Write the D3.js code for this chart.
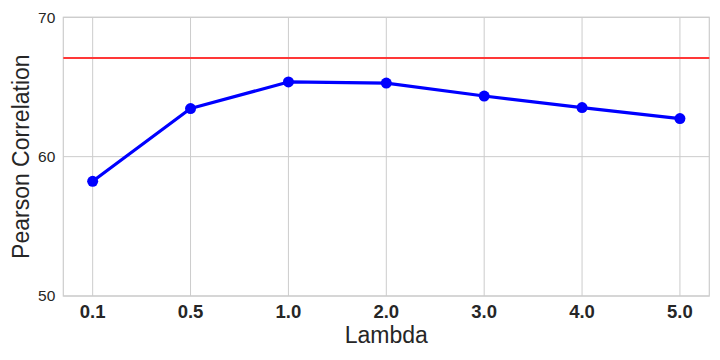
<!DOCTYPE html>
<html>
<head>
<meta charset="utf-8">
<script src="https://cdn.jsdelivr.net/npm/d3@7"></script>
<style>
  body { margin: 0; background: #fff; }
  text { font-family: "Liberation Sans", Arial, sans-serif; fill: #262626; }
</style>
</head>
<body>
<div id="chart"></div>
<script>
(function(){

    // data
    var lambdas = ["0.1", "0.5", "1.0", "2.0", "3.0", "4.0", "5.0"];
    var pearson = [58.23, 63.45, 65.36, 65.28, 64.35, 63.52, 62.73];
    var baseline = 67.08;
    var yTicks = [50, 60, 70];

    var margin = {top: 17.3, right: 10.7, bottom: 64, left: 63.3},
      width = 720 - margin.left - margin.right,
      height = 360 - margin.top - margin.bottom;

    var svg = d3.select("#chart").append("svg")
      .attr("width", 720)
      .attr("height", 360)
    .append("g")
      .attr("transform", "translate(" + margin.left + "," + margin.top + ")");

    // matplotlib-ish margins: index domain -0.3 .. n-1+0.3
    var xi = d3.scaleLinear().domain([-0.3, lambdas.length - 1 + 0.3]).range([0, width]);
    var y = d3.scaleLinear().domain([50, 70]).range([height, 0]);

    // grid
    svg.append("g")
        .selectAll("line.vg")
        .data(lambdas)
      .enter().append("line")
        .attr("x1", function(d, i) { return xi(i); })
        .attr("x2", function(d, i) { return xi(i); })
        .attr("y1", 0).attr("y2", height)
        .attr("stroke", "#cccccc").attr("stroke-width", 1);
    svg.append("g")
        .selectAll("line.hg")
        .data(yTicks)
      .enter().append("line")
        .attr("x1", 0).attr("x2", width)
        .attr("y1", function(d) { return y(d); })
        .attr("y2", function(d) { return y(d); })
        .attr("stroke", "#cccccc").attr("stroke-width", 1);

    // frame
    svg.append("rect")
        .attr("width", width).attr("height", height)
        .attr("fill", "none").attr("stroke", "#cccccc").attr("stroke-width", 1.2);

    // reference line
    svg.append("line")
        .attr("x1", 0).attr("x2", width)
        .attr("y1", y(baseline)).attr("y2", y(baseline))
        .attr("stroke", "#ff3838").attr("stroke-width", 1.8);

    var line = d3.line()
        .x(function(d, i) { return xi(i); })
        .y(function(d) { return y(d); });

    svg.append("path")
        .datum(pearson)
        .attr("d", line)
        .attr("fill", "none")
        .attr("stroke", "#0000ff")
        .attr("stroke-width", 3.2)
        .attr("stroke-linejoin", "round");

    svg.selectAll("circle")
        .data(pearson)
      .enter().append("circle")
        .attr("cx", function(d, i) { return xi(i); })
        .attr("cy", function(d) { return y(d); })
        .attr("r", 5.5)
        .attr("fill", "#0000ff");

    // tick labels
    svg.selectAll("text.yt")
        .data(yTicks)
      .enter().append("text")
        .attr("x", -8)
        .attr("y", function(d) { return y(d); })
        .attr("dy", "0.35em")
        .attr("text-anchor", "end")
        .style("font-size", "15.5px")
        .text(function(d) { return d; });

    svg.selectAll("text.xt")
        .data(lambdas)
      .enter().append("text")
        .attr("x", function(d, i) { return xi(i); })
        .attr("y", height + 22)
        .attr("text-anchor", "middle")
        .style("font-size", "18.5px")
        .style("font-weight", "bold")
        .text(function(d) { return d; });

    // axis titles
    svg.append("text")
        .attr("x", width / 2)
        .attr("y", height + 47)
        .attr("text-anchor", "middle")
        .style("font-size", "23px")
        .text("Lambda");

    svg.append("text")
        .attr("transform", "translate(" + (-34) + "," + (height / 2) + ") rotate(-90)")
        .attr("text-anchor", "middle")
        .style("font-size", "23px")
        .text("Pearson Correlation");

})();
</script>
</body>
</html>
